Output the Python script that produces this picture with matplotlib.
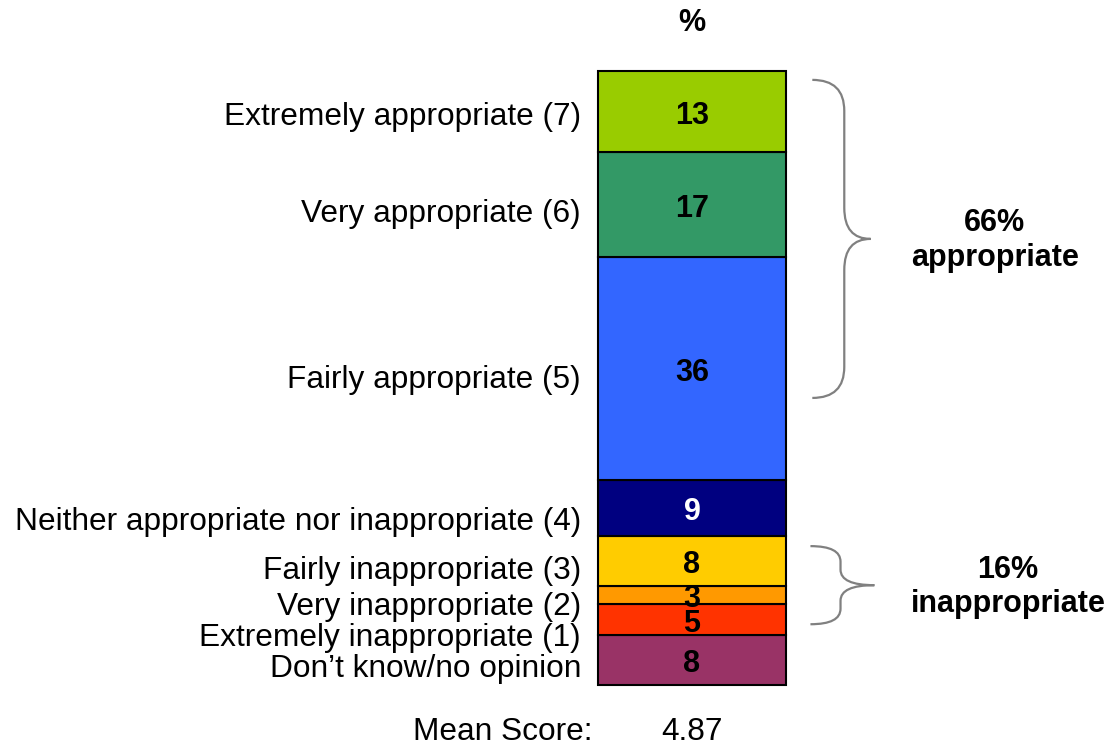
import matplotlib
matplotlib.use("Agg")
import matplotlib.pyplot as plt
import numpy as np
from matplotlib.path import Path
from matplotlib.patches import PathPatch

plt.rcParams['font.family'] = ['Liberation Sans', 'DejaVu Sans']

# categories listed bottom to top of the stacked bar
categories = ["Don\u2019t know/no opinion",
              "Extremely inappropriate (1)",
              "Very inappropriate (2)",
              "Fairly inappropriate (3)",
              "Neither appropriate nor inappropriate (4)",
              "Fairly appropriate (5)",
              "Very appropriate (6)",
              "Extremely appropriate (7)"]
values = [8, 5, 3, 8, 9, 36, 17, 13]
colors = ["#993366", "#FF3300", "#FF9900", "#FFCC00",
          "#000080", "#3366FF", "#339966", "#99CC00"]
value_text_colors = ["black", "black", "black", "black",
                     "white", "black", "black", "black"]
mean_score = 4.87
group_labels = ["66%\nappropriate", "16%\ninappropriate"]

# small vertical nudges for the left labels (layout only)
label_nudge = [-0.8, -2.3, -1.3, -1.0, -1.6, -1.2, -0.9, -0.2]
dy = -0.65  # text sits a bit low in the original

fs = 22.8
W, H = 1107, 745
fig = plt.figure(figsize=(W / 100, H / 100), dpi=100)
px_per_unit = 6.2
total = sum(values)
ax = fig.add_axes([598 / W, (H - 685) / H, 188 / W, total * px_per_unit / H])
ax.set_xlim(-0.5, 0.5)
ax.set_ylim(0, total)
ax.axis('off')

bottoms = np.concatenate([[0], np.cumsum(values)[:-1]])
ax.bar(0, values, bottom=bottoms, width=1.0, color=colors,
       edgecolor='black', linewidth=1.5, clip_on=False)

for b, v, lab, tc, nd in zip(bottoms, values, categories, value_text_colors, label_nudge):
    c = b + v / 2
    ax.text(0, c + dy, str(v), ha='center', va='center', fontsize=22,
            fontweight='bold', color=tc)
    ax.text(-0.59, c + nd + dy, lab, ha='right', va='center', fontsize=fs,
            clip_on=False)

ax.text(0, total + 7.8, "%", ha='center', va='center', fontsize=22,
        fontweight='bold', clip_on=False)

ax.text(-0.53, -7.6, "Mean Score:", ha='right', va='center', fontsize=fs,
        clip_on=False)
ax.text(0, -7.6, f"{mean_score:.2f}", ha='center', va='center', fontsize=fs,
        clip_on=False)


def brace(ax, x0, xm, xt, ytop, ybot, r):
    ymid = (ytop + ybot) / 2
    verts = [(x0, ytop), (xm, ytop), (xm, ytop - r),
             (xm, ymid + r),
             (xm, ymid), (xt, ymid),
             (xm, ymid), (xm, ymid - r),
             (xm, ybot + r),
             (xm, ybot), (x0, ybot)]
    codes = [Path.MOVETO, Path.CURVE3, Path.CURVE3,
             Path.LINETO,
             Path.CURVE3, Path.CURVE3,
             Path.CURVE3, Path.CURVE3,
             Path.LINETO,
             Path.CURVE3, Path.CURVE3]
    ax.add_patch(PathPatch(Path(verts, codes), facecolor='none',
                           edgecolor='#808080', linewidth=1.6, clip_on=False))
    return ymid


m1 = brace(ax, 0.64, 0.81, 0.95, 97.6, 46.3, 5.0)
m2 = brace(ax, 0.63, 0.79, 0.97, 22.4, 9.8, 2.5)

ax.text(1.61, m1 - 0.3, group_labels[0], ha='center', va='center', fontsize=22,
        fontweight='bold', linespacing=1.2, clip_on=False)
ax.text(1.68, m2 - 0.3, group_labels[1], ha='center', va='center', fontsize=22,
        fontweight='bold', linespacing=1.2, clip_on=False)

fig.savefig("out.png", dpi=100)
